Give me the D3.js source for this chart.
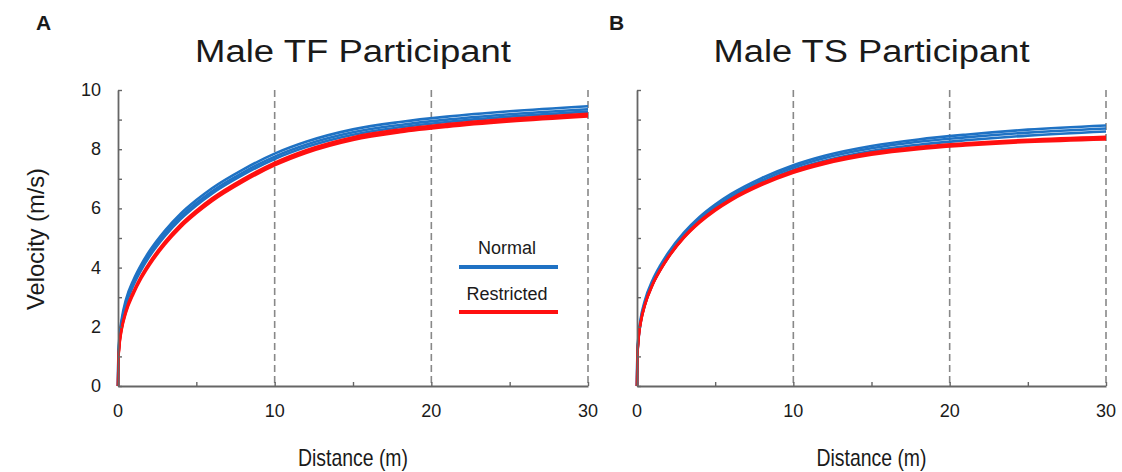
<!DOCTYPE html>
<html>
<head>
<meta charset="utf-8">
<script src="https://cdn.jsdelivr.net/npm/d3@7"></script>
<style>
  body { margin: 0; background: #fff; }
  text { font-family: "Liberation Sans", Arial, sans-serif; fill: #1a1a1a; }
</style>
</head>
<body>
<script>
const width = 1122;
const height = 472;

// distances (m) at which the curves were read
const distances = [0, 0.02, 0.1, 0.25, 0.5, 1, 1.5, 2, 3, 4, 5, 6, 8, 10, 12, 15, 18, 21, 25, 30];

// Panel A: Male TF participant, velocity (m/s)
const tfNormal = [
  [0, 0.95, 1.7, 2.3, 2.9, 3.6, 4.12, 4.55, 5.25, 5.82, 6.28, 6.68, 7.32, 7.85, 8.25, 8.67, 8.92, 9.1, 9.28, 9.45],
  [0, 0.9, 1.6, 2.2, 2.8, 3.5, 4.02, 4.45, 5.15, 5.72, 6.18, 6.58, 7.22, 7.75, 8.15, 8.57, 8.82, 9.0, 9.18, 9.35],
  [0, 0.85, 1.52, 2.12, 2.72, 3.42, 3.94, 4.37, 5.07, 5.64, 6.1, 6.5, 7.14, 7.67, 8.07, 8.49, 8.74, 8.92, 9.1, 9.27]
];
const tfRestricted = [
  [0, 0.8, 1.45, 2.0, 2.55, 3.22, 3.74, 4.17, 4.88, 5.46, 5.93, 6.34, 7.0, 7.55, 7.97, 8.41, 8.67, 8.85, 9.03, 9.2],
  [0, 0.78, 1.42, 1.96, 2.5, 3.17, 3.69, 4.12, 4.83, 5.41, 5.88, 6.29, 6.95, 7.5, 7.92, 8.36, 8.62, 8.8, 8.98, 9.15],
  [0, 0.76, 1.38, 1.92, 2.45, 3.12, 3.64, 4.07, 4.78, 5.36, 5.83, 6.24, 6.9, 7.45, 7.87, 8.31, 8.57, 8.75, 8.93, 9.1]
];

// Panel B: Male TS participant
const tsNormal = [
  [0, 1.0, 1.72, 2.32, 2.88, 3.58, 4.08, 4.5, 5.18, 5.71, 6.13, 6.48, 7.03, 7.46, 7.78, 8.11, 8.33, 8.49, 8.66, 8.8],
  [0, 0.95, 1.65, 2.25, 2.8, 3.5, 4.0, 4.42, 5.1, 5.63, 6.05, 6.4, 6.95, 7.38, 7.7, 8.03, 8.25, 8.4, 8.56, 8.7],
  [0, 0.9, 1.6, 2.18, 2.73, 3.43, 3.93, 4.35, 5.03, 5.56, 5.98, 6.33, 6.87, 7.3, 7.61, 7.94, 8.15, 8.3, 8.46, 8.6]
];
const tsRestricted = [
  [0, 0.92, 1.62, 2.2, 2.75, 3.45, 3.95, 4.37, 5.05, 5.57, 5.98, 6.32, 6.86, 7.28, 7.58, 7.89, 8.08, 8.2, 8.32, 8.42],
  [0, 0.9, 1.6, 2.18, 2.73, 3.43, 3.93, 4.35, 5.02, 5.54, 5.95, 6.29, 6.83, 7.24, 7.54, 7.85, 8.04, 8.16, 8.28, 8.38],
  [0, 0.88, 1.58, 2.16, 2.71, 3.41, 3.91, 4.33, 5.0, 5.51, 5.92, 6.26, 6.79, 7.2, 7.5, 7.81, 8.0, 8.12, 8.24, 8.33]
];

const yTickLabels = [0, 2, 4, 6, 8, 10];
const xTickLabels = [0, 10, 20, 30];
const dashedAt = [10, 20, 30];
const legendLabels = ['Normal', 'Restricted'];

const blue = '#1f72c4';
const red = '#ff1010';
const axisColor = '#666';

const svg = d3.select('body').append('svg').attr('width', width).attr('height', height);

const y = d3.scaleLinear().domain([0, 10]).range([386, 90]);

const panels = [
  { letter: 'A', letterX: 36, title: 'Male TF Participant', x0: 118, x1: 588, normal: tfNormal, restricted: tfRestricted, yLabels: true, legend: true },
  { letter: 'B', letterX: 609, title: 'Male TS Participant', x0: 637, x1: 1106, normal: tsNormal, restricted: tsRestricted, yLabels: false, legend: false }
];

panels.forEach(function (p) {
  const x = d3.scaleLinear().domain([0, 30]).range([p.x0, p.x1]);
  const g = svg.append('g');

  // dashed reference lines
  g.selectAll('.dash')
    .data(dashedAt)
    .enter()
    .append('line')
    .attr('x1', (d) => x(d))
    .attr('x2', (d) => x(d))
    .attr('y1', y(10))
    .attr('y2', y(0))
    .attr('stroke', '#888')
    .attr('stroke-width', 1.6)
    .attr('stroke-dasharray', '7,4');

  // curves
  const line = d3
    .line()
    .x((d, i) => x(distances[i]))
    .y((d) => y(d))
    .curve(d3.curveMonotoneX);

  g.selectAll('.normal')
    .data(p.normal)
    .enter()
    .append('path')
    .attr('d', line)
    .attr('fill', 'none')
    .attr('stroke', blue)
    .attr('stroke-width', 2.6);

  g.selectAll('.restricted')
    .data(p.restricted)
    .enter()
    .append('path')
    .attr('d', line)
    .attr('fill', 'none')
    .attr('stroke', red)
    .attr('stroke-width', 2.4);

  // y axis with inward ticks
  const yAxis = g
    .append('g')
    .attr('transform', 'translate(' + p.x0 + ',0)')
    .call(d3.axisRight(y).ticks(10).tickSize(4).tickSizeOuter(0).tickFormat(''));
  yAxis.select('.domain').attr('stroke', axisColor).attr('stroke-width', 1.8);
  yAxis.selectAll('.tick line').attr('stroke', axisColor).attr('stroke-width', 1.4);

  // x axis with inward ticks
  const xAxis = g
    .append('g')
    .attr('transform', 'translate(0,' + y(0) + ')')
    .call(d3.axisTop(x).tickValues(d3.range(0, 31, 5)).tickSize(4).tickSizeOuter(0).tickFormat(''));
  xAxis.select('.domain').attr('stroke', axisColor).attr('stroke-width', 1.8);
  xAxis.selectAll('.tick line').attr('stroke', axisColor).attr('stroke-width', 1.4);

  // tick labels
  g.selectAll('.xl')
    .data(xTickLabels)
    .enter()
    .append('text')
    .attr('x', (d) => x(d))
    .attr('y', 417)
    .attr('text-anchor', 'middle')
    .attr('font-size', 18)
    .text((d) => d);

  if (p.yLabels) {
    g.selectAll('.yl')
      .data(yTickLabels)
      .enter()
      .append('text')
      .attr('x', p.x0 - 17)
      .attr('y', (d) => y(d) + 6)
      .attr('text-anchor', 'end')
      .attr('font-size', 18)
      .text((d) => d);
  }

  // titles
  g.append('text')
    .attr('x', (p.x0 + p.x1) / 2)
    .attr('y', 62)
    .attr('text-anchor', 'middle')
    .attr('font-size', 31)
    .attr('textLength', 316)
    .attr('lengthAdjust', 'spacingAndGlyphs')
    .text(p.title);

  g.append('text')
    .attr('x', p.letterX)
    .attr('y', 30)
    .attr('font-size', 21)
    .attr('font-weight', 'bold')
    .text(p.letter);

  g.append('text')
    .attr('x', (p.x0 + p.x1) / 2)
    .attr('y', 466)
    .attr('text-anchor', 'middle')
    .attr('font-size', 24)
    .attr('textLength', 110)
    .attr('lengthAdjust', 'spacingAndGlyphs')
    .text('Distance (m)');

  if (p.legend) {
    const lg = g.append('g');
    const colors = [blue, red];
    legendLabels.forEach(function (label, i) {
      lg.append('text')
        .attr('x', 507)
        .attr('y', 254 + i * 46)
        .attr('text-anchor', 'middle')
        .attr('font-size', 18)
        .text(label);
      lg.append('line')
        .attr('x1', 459)
        .attr('x2', 558)
        .attr('y1', 267 + i * 45)
        .attr('y2', 267 + i * 45)
        .attr('stroke', colors[i])
        .attr('stroke-width', 4);
    });
  }
});

svg
  .append('text')
  .attr('transform', 'translate(44,239) rotate(-90)')
  .attr('text-anchor', 'middle')
  .attr('font-size', 24)
  .attr('textLength', 142)
  .attr('lengthAdjust', 'spacingAndGlyphs')
  .text('Velocity (m/s)');
</script>
</body>
</html>
